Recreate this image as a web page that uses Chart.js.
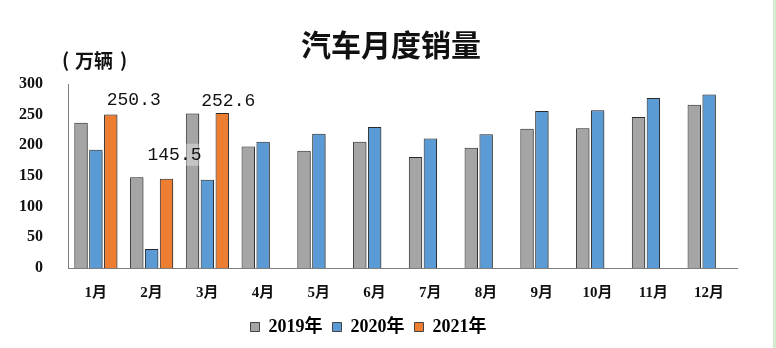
<!DOCTYPE html>
<html>
<head>
<meta charset="utf-8">
<script src="https://cdn.jsdelivr.net/npm/chart.js@4"></script>
<style>
  html, body { margin: 0; padding: 0; background: #fff; }
  .frame { width: 773px; height: 348px; border-right: 3px solid #d3ebcf; }
</style>
</head>
<body>
<div class="frame"><canvas id="sales-chart" width="773" height="348"></canvas></div>
<script>
const months = ['1月', '2月', '3月', '4月', '5月', '6月', '7月', '8月', '9月', '10月', '11月', '12月'];
const sales2019 = [237, 148, 252, 198, 191, 206, 181, 196, 227, 228, 246, 266];
const sales2020 = [193, 31, 144, 206, 219, 230, 211, 218, 256, 257, 277, 283];
const sales2021 = [250.3, 145.5, 252.6, null, null, null, null, null, null, null, null, null];
const yTicks = [0, 50, 100, 150, 200, 250, 300];
// hand-placed value labels, offset from the top of their bar (like a dragged Excel label)
const labelNudgeX = [23, 8, 6];
const labelNudgeY = [-14, -24, -12];

const serif = "'Liberation Serif', 'Noto Sans CJK SC', serif";

// soft shadow under the bars, like the office chart it comes from
const barShadow = {
  id: 'barShadow',
  beforeDatasetsDraw(chart) {
    const ctx = chart.ctx;
    ctx.save();
    ctx.shadowColor = 'rgba(0,0,0,0.35)';
    ctx.shadowOffsetX = 1;
    ctx.shadowOffsetY = 1;
    ctx.shadowBlur = 2;
  },
  afterDatasetsDraw(chart) {
    chart.ctx.restore();
  }
};

const extraText = {
  id: 'extraText',
  afterDraw(chart) {
    const ctx = chart.ctx;
    ctx.save();
    ctx.fillStyle = '#111';
    ctx.textBaseline = 'middle';

    // title
    ctx.font = "bold 30px 'Noto Sans CJK SC', sans-serif";
    ctx.textAlign = 'center';
    ctx.fillText('汽车月度销量', 391, 45);

    // unit caption
    ctx.font = "bold 19px 'Noto Sans CJK SC', sans-serif";
    ctx.textAlign = 'left';
    ctx.fillText('(', 62, 60);
    ctx.fillText('万辆', 75, 61);
    ctx.fillText(')', 120, 60);

    // value labels for 2021
    const meta = chart.getDatasetMeta(2);
    ctx.font = "18px 'Liberation Mono', monospace";
    ctx.textAlign = 'center';
    meta.data.forEach((bar, i) => {
      const value = sales2021[i];
      if (value == null) return;
      const text = value.toFixed(1);
      const w = ctx.measureText(text).width + 4;
      const x = bar.x + (labelNudgeX[i] || 10);
      const y = bar.y + (labelNudgeY[i] || -15);
      ctx.fillStyle = 'rgba(255,255,255,0.35)';
      ctx.fillRect(x - w / 2, y - 11, w, 22);
      ctx.fillStyle = '#111';
      ctx.fillText(text, x, y);
    });
    ctx.restore();
  }
};

const dataset = (label, data, color) => ({
  label,
  data,
  backgroundColor: color,
  borderColor: '#2b2b2b',
  borderWidth: 1,
  borderSkipped: 'bottom',
  categoryPercentage: 0.8,
  barPercentage: 0.9
});

new Chart(document.getElementById('sales-chart'), {
  type: 'bar',
  data: {
    labels: months,
    datasets: [
      dataset('2019年', sales2019, '#a5a5a5'),
      dataset('2020年', sales2020, '#5b9bd5'),
      dataset('2021年', sales2021, '#ed7d31')
    ]
  },
  options: {
    responsive: false,
    animation: false,
    layout: { padding: { top: 84, right: 36, left: 0, bottom: 2 } },
    plugins: {
      title: { display: false },
      tooltip: { enabled: false },
      legend: {
        position: 'bottom',
        labels: {
          boxWidth: 9,
          boxHeight: 9,
          padding: 10,
          color: '#111',
          font: { family: serif, size: 18, weight: 'bold' },
          generateLabels(chart) {
            return chart.data.datasets.map((ds, i) => ({
              text: ds.label,
              fillStyle: ds.backgroundColor,
              strokeStyle: '#444',
              lineWidth: 1,
              datasetIndex: i
            }));
          }
        }
      }
    },
    scales: {
      x: {
        grid: { display: false, drawTicks: false },
        border: { display: true, color: '#7f7f7f', width: 1 },
        ticks: { color: '#111', padding: 16, font: { family: serif, size: 15, weight: 'bold' } },
        afterFit(scale) { scale.height = 40; }
      },
      y: {
        min: 0,
        max: 300,
        afterBuildTicks(scale) { scale.ticks = yTicks.map((value) => ({ value })); },
        grid: { display: false, drawTicks: false },
        border: { display: true, color: '#7f7f7f', width: 1 },
        ticks: { color: '#111', padding: 25, font: { family: serif, size: 16, weight: 'bold' } },
        afterFit(scale) { scale.width = 68; }
      }
    }
  },
  plugins: [barShadow, extraText]
});
</script>
</body>
</html>
